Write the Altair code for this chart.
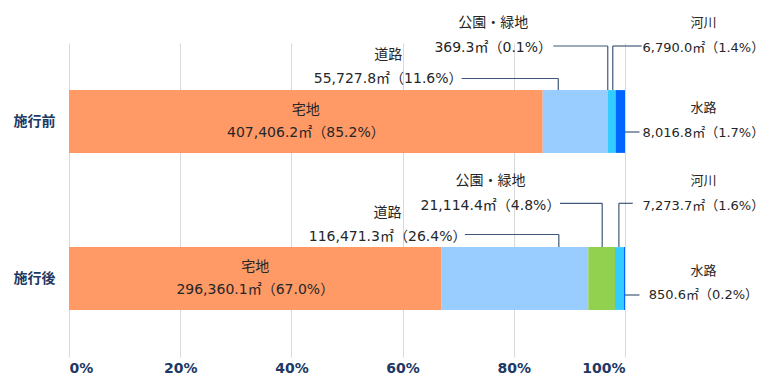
import altair as alt
import pandas as pd

# ---------------- data ----------------
STAGES = ["施行前", "施行後"]
CATEGORIES = ["宅地", "道路", "公園・緑地", "河川", "水路"]
AREA_BEFORE = [407406.2, 55727.8, 369.3, 6790.0, 8016.8]
PCT_BEFORE = [85.2, 11.6, 0.1, 1.4, 1.7]
AREA_AFTER = [296360.1, 116471.3, 21114.4, 7273.7, 850.6]
PCT_AFTER = [67.0, 26.4, 4.8, 1.6, 0.2]
X_TICKS = [0, 20, 40, 60, 80, 100]

# ---------------- styles ----------------
COLORS = ["#FF9966", "#99CCFF", "#92D050", "#33CCFF", "#0066FF"]
NAVY = "#203864"
TEXT = "#262626"
LEADER = "#3F5878"
FONT = "'DejaVu Sans', 'Noto Sans CJK JP', sans-serif"
FS = 14
FS_RIGHT = 13

# callout layout: text centre (% units), pixel offsets, leader start / elbow (% units)
LAYOUT = {
    ("施行前", "道路"):     dict(tx=57.4, name_dy=-66.5, val_dy=-42.5, line_dy=-43.0, x_from=70.6, elbow=88.0, fs=FS),
    ("施行前", "公園・緑地"): dict(tx=76.3, name_dy=-98.5, val_dy=-74.0, line_dy=-75.5, x_from=87.1, elbow=96.9, fs=FS),
    ("施行前", "河川"):     dict(tx=114.1, name_dy=-98.5, val_dy=-74.0, line_dy=-75.5, x_from=103.0, elbow=97.8, fs=FS_RIGHT),
    ("施行前", "水路"):     dict(tx=114.1, name_dy=-13.2, val_dy=11.8, line_dy=10.5, x_from=100.0, elbow=102.6, fs=FS_RIGHT),
    ("施行後", "道路"):     dict(tx=57.3, name_dy=-65.2, val_dy=-41.2, line_dy=-44.0, x_from=71.2, elbow=88.1, fs=FS),
    ("施行後", "公園・緑地"): dict(tx=75.8, name_dy=-97.8, val_dy=-72.8, line_dy=-75.2, x_from=88.3, elbow=95.9, fs=FS),
    ("施行後", "河川"):     dict(tx=114.1, name_dy=-97.8, val_dy=-72.8, line_dy=-75.2, x_from=101.4, elbow=98.9, fs=FS_RIGHT),
    ("施行後", "水路"):     dict(tx=114.1, name_dy=-7.5, val_dy=16.5, line_dy=16.5, x_from=100.0, elbow=102.6, fs=FS_RIGHT),
}
HALF_BAR = 31.4

rows = []
for stage, areas, pcts in [(STAGES[0], AREA_BEFORE, PCT_BEFORE), (STAGES[1], AREA_AFTER, PCT_AFTER)]:
    start = 0.0
    for i, (c, a, p) in enumerate(zip(CATEGORIES, areas, pcts)):
        rows.append(dict(stage=stage, category=c, area=a, pct=p, order=i,
                         start=start, end=start + p, mid=start + p / 2,
                         label=f"{a:,.1f}㎡（{p:.1f}%）"))
        start += p
df = pd.DataFrame(rows)

xscale = alt.Scale(domain=[0, 100], nice=False)
yscale = alt.Scale(domain=STAGES, paddingInner=0.6, paddingOuter=0.3)

bars = alt.Chart(df).mark_bar().encode(
    x=alt.X("start:Q", scale=xscale, axis=alt.Axis(
        values=X_TICKS, labelExpr="datum.value + '%'", title=None,
        domain=False, ticks=False, grid=True, gridColor="#D9D9D9",
        labelFont=FONT, labelFontSize=14, labelFontWeight="bold",
        labelColor=NAVY, labelPadding=4)),
    x2="end:Q",
    y=alt.Y("stage:N", scale=yscale, sort=STAGES, axis=alt.Axis(
        title=None, domain=False, ticks=False, grid=False,
        labelFont=FONT, labelFontSize=14, labelFontWeight="bold",
        labelColor=NAVY, labelPadding=14)),
    color=alt.Color("category:N", scale=alt.Scale(domain=CATEGORIES, range=COLORS), legend=None),
)

inner = df[df.category == CATEGORIES[0]]
inner_name = alt.Chart(inner).mark_text(font=FONT, fontSize=FS, color=TEXT, dy=-11.5).encode(
    x=alt.X("mid:Q", scale=xscale), y=alt.Y("stage:N", scale=yscale, sort=STAGES), text="category:N")
inner_val = alt.Chart(inner).mark_text(font=FONT, fontSize=FS, color=TEXT, dy=11.5).encode(
    x=alt.X("mid:Q", scale=xscale), y=alt.Y("stage:N", scale=yscale, sort=STAGES), text="label:N")

layers = [bars, inner_name, inner_val]
for (stage, cat), lay in LAYOUT.items():
    r = df[(df.stage == stage) & (df.category == cat)].iloc[0]
    d = pd.DataFrame([dict(stage=stage, name=cat, label=r["label"], tx=lay["tx"],
                           x_from=lay["x_from"], elbow=lay["elbow"])])
    base = alt.Chart(d)
    yenc = alt.Y("stage:N", scale=yscale, sort=STAGES)
    layers.append(base.mark_text(font=FONT, fontSize=lay["fs"], color=TEXT, dy=lay["name_dy"]).encode(
        x=alt.X("tx:Q", scale=xscale), y=yenc, text="name:N"))
    layers.append(base.mark_text(font=FONT, fontSize=lay["fs"], color=TEXT, dy=lay["val_dy"]).encode(
        x=alt.X("tx:Q", scale=xscale), y=yenc, text="label:N"))
    layers.append(base.mark_rule(color=LEADER, strokeWidth=1.2, yOffset=lay["line_dy"]).encode(
        x=alt.X("x_from:Q", scale=xscale), x2="elbow:Q", y=yenc))
    if lay["line_dy"] < 0:
        layers.append(base.mark_rule(color=LEADER, strokeWidth=1.2,
                                     yOffset=lay["line_dy"], y2Offset=-HALF_BAR).encode(
            x=alt.X("elbow:Q", scale=xscale), y=yenc, y2="stage:N"))

chart = alt.layer(*layers).properties(
    width=556, height=314,
    autosize=alt.AutoSizeParams(type="none"),
    padding={"left": 61, "top": 35, "right": 140, "bottom": 18},
    background="white",
).configure_view(stroke=None)

chart.save("out.html", embed_options={"renderer": "svg", "actions": False})
